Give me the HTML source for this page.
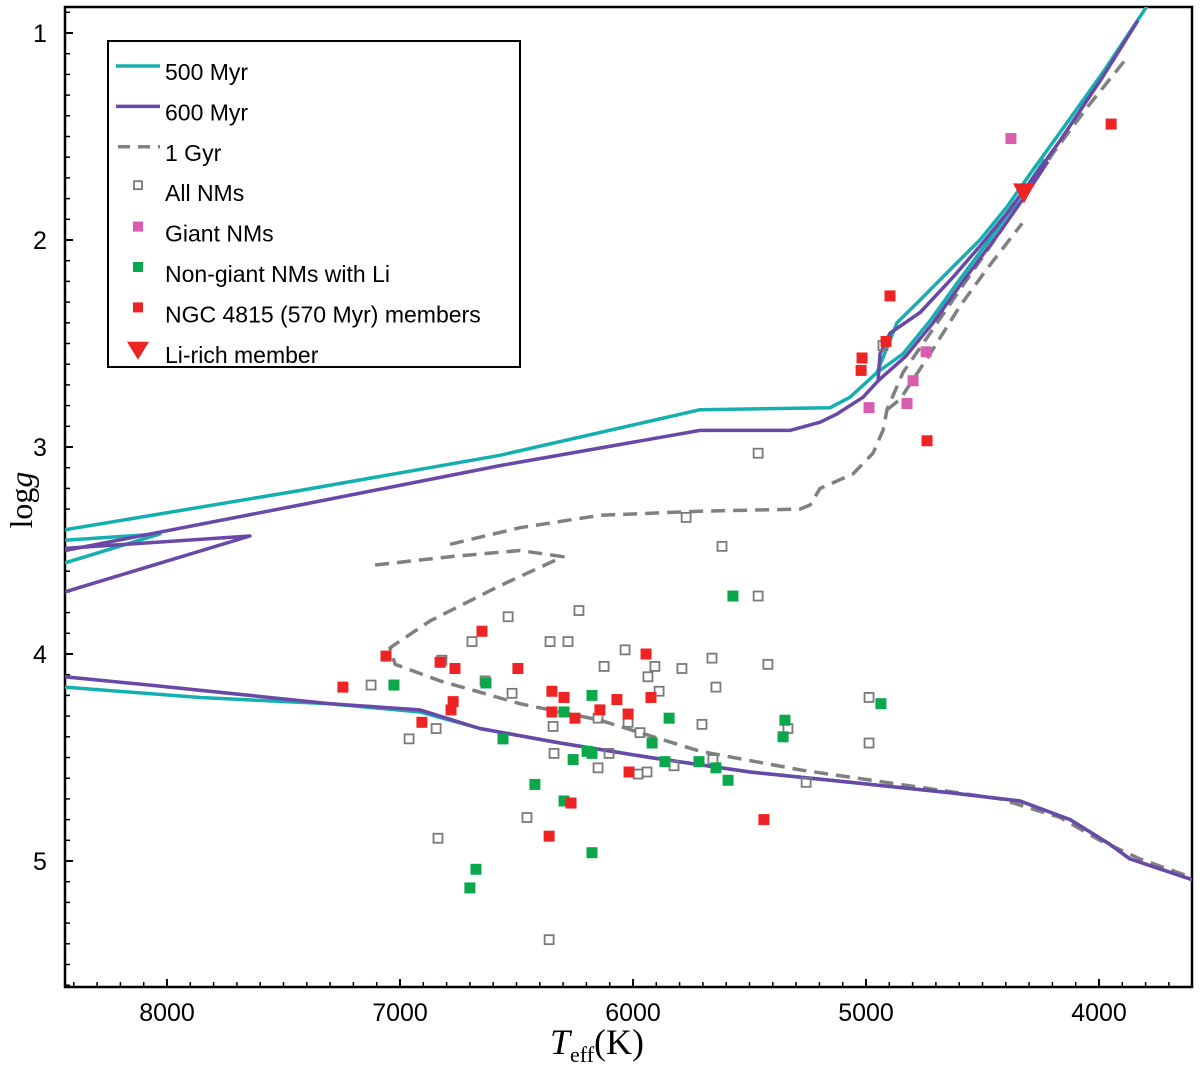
<!DOCTYPE html>
<html><head><meta charset="utf-8"><style>
html,body{margin:0;padding:0;background:#fff;}
svg{display:block;}
</style></head><body>
<svg id="chart" width="1200" height="1066" xmlns="http://www.w3.org/2000/svg"></svg>
<script>
// ---- data ----
const redT=[3948,4897,4914,5017,5021,4738,7245,7060,6648,6828,6764,6494,6772,6781,6906,6348,6296,6348,6249,6142,6069,6021,5944,5923,6017,6266,6360,5438];
const redG=[1.44,2.27,2.49,2.57,2.63,2.97,4.16,4.01,3.89,4.04,4.07,4.07,4.23,4.27,4.33,4.18,4.21,4.28,4.31,4.27,4.22,4.29,4.00,4.21,4.57,4.72,4.88,4.80];
const greenT=[5571,7026,6631,6558,6176,6296,5845,5918,6197,6176,6257,5863,5717,5644,5592,6421,6296,6176,6674,6700,5348,5356,4936];
const greenG=[3.72,4.15,4.14,4.41,4.20,4.28,4.31,4.43,4.47,4.48,4.51,4.52,4.52,4.55,4.61,4.63,4.71,4.96,5.04,5.13,4.32,4.40,4.24];
const greyT=[5463,5772,5618,5463,6232,6536,6691,6356,6279,6034,6124,5906,5936,5790,5661,5421,5644,5888,6519,6820,7124,6635,6845,6961,6343,6150,6021,5970,5704,5335,6339,6103,6150,5978,5940,5824,5657,5257,6455,6837,6360,4987,4987,4927];
const greyG=[3.03,3.34,3.48,3.72,3.79,3.82,3.94,3.94,3.94,3.98,4.06,4.06,4.11,4.07,4.02,4.05,4.16,4.18,4.19,4.03,4.15,4.13,4.36,4.41,4.35,4.31,4.33,4.38,4.34,4.36,4.48,4.48,4.55,4.58,4.57,4.54,4.51,4.62,4.79,4.89,5.38,4.21,4.43,2.51];
const pinkT=[4378,4742,4798,4824,4987];
const pinkG=[1.51,2.54,2.68,2.79,2.81];
const liT=[4322];
const liG=[1.77];
// isochrones
const t500msT=[8438,7858,7300,6914,6657,6313,5927,5498,5069,4639,4339,4124,3953,3867,3601];
const t500msG=[4.16,4.21,4.24,4.28,4.36,4.43,4.50,4.57,4.62,4.67,4.71,4.80,4.92,4.99,5.09];
const t500upT=[8438,7429,6571,5712,5154,5069,4953,4867,4768,4627,4511,4395,4283,4167,3983,3794];
const t500upG=[3.40,3.21,3.04,2.82,2.81,2.76,2.64,2.40,2.29,2.13,2.00,1.84,1.66,1.48,1.19,0.87];
const t500rgbT=[4953,4841,4725,4597,4438,4326,4232];
const t500rgbG=[2.64,2.55,2.39,2.19,1.95,1.77,1.61];
const t500hookT=[8438,8030,8438];
const t500hookG=[3.56,3.42,3.45];
const p600msT=[8438,8073,7300,6914,6657,6313,5927,5498,5069,4639,4339,4124,3953,3867,3601];
const p600msG=[4.11,4.15,4.24,4.27,4.36,4.43,4.50,4.57,4.62,4.67,4.71,4.80,4.92,4.99,5.09];
const p600upT=[8438,7429,6571,5712,5326,5197,5124,5013,4948,4940,4897,4768,4627,4511,4395,4283,4167,3983,3833];
const p600upG=[3.50,3.28,3.09,2.92,2.92,2.88,2.84,2.76,2.68,2.55,2.45,2.35,2.18,2.03,1.87,1.70,1.52,1.21,0.94];
const p600rgbT=[4948,4828,4712,4584,4425,4313,4219];
const p600rgbG=[2.68,2.56,2.40,2.20,1.96,1.78,1.62];
const p600hookT=[8438,7644,8438];
const p600hookG=[3.70,3.43,3.49];
const g1aT=[7107,6785,6485,6300,6571,6871,7043,7021,6828,6485,6142,5712,5283,4854,4425,4167,3996,3824,3601];
const g1aG=[3.57,3.53,3.50,3.53,3.67,3.84,3.97,4.05,4.13,4.24,4.32,4.47,4.56,4.63,4.70,4.79,4.90,4.99,5.08];
const g1bT=[6785,6485,6142,5712,5283,5240,5197,5056,4970,4927,4910,4841,4725,4597,4455,4309,4197,4051,3880];
const g1bG=[3.47,3.39,3.33,3.31,3.30,3.28,3.20,3.13,3.03,2.92,2.82,2.64,2.45,2.24,2.01,1.77,1.58,1.36,1.12];
const g1cT=[4910,4854,4725,4597,4481,4330];
const g1cG=[2.82,2.77,2.55,2.32,2.14,1.92];
const xTicks=[8000,7000,6000,5000,4000];
const yTicks=[1,2,3,4,5];

// ---- axes ----
const L=65,R=1192,T=7,B=987;
const X=t=>167+(8000-t)*0.233;
const Y=g=>33+(g-1)*207;
const NS='http://www.w3.org/2000/svg';
const svg=document.getElementById('chart');
function mk(tag,attrs,parent){const e=document.createElementNS(NS,tag);for(const k in attrs)e.setAttribute(k,attrs[k]);(parent||svg).appendChild(e);return e;}

// frame
const frame=mk('rect',{x:L,y:T,width:R-L,height:B-T,fill:'none',stroke:'#000','stroke-width':2.5});


for(let t=8400;t>=3700;t-=100){const x=X(t);const maj=t%1000===0;
 const tk=mk('line',{x1:x,x2:x,y1:B,y2:B-(maj?8:5),stroke:'#000','stroke-width':maj?2:1.5});
 
 }
for(let g=0.9;g<=5.6;g+=0.1){const gg=Math.round(g*10)/10;const y=Y(gg);const maj=Math.abs(gg-Math.round(gg))<1e-6;
 const tk=mk('line',{x1:L,x2:L+(maj?8:5),y1:y,y2:y,stroke:'#000','stroke-width':maj?2:1.5});
 
 }
xTicks.forEach(t=>{const e=mk('text',{x:X(t),y:1021,'text-anchor':'middle','font-family':'Liberation Sans, sans-serif','font-size':25});e.textContent=t;
 
 });
yTicks.forEach(g=>{const e=mk('text',{x:40,y:Y(g)+9,'text-anchor':'middle','font-family':'Liberation Sans, sans-serif','font-size':25});e.textContent=g;
 
 });

const xt=mk('text',{x:597,y:1054,'text-anchor':'middle','font-family':'Liberation Serif, serif','font-size':36});
xt.innerHTML='<tspan font-style="italic">T</tspan><tspan font-size="22" dy="8">eff</tspan><tspan dy="-8">(K)</tspan>';


const yt=mk('text',{x:32,y:500,'text-anchor':'middle','font-family':'Liberation Serif, serif','font-size':32,transform:'rotate(-90 32 500)'});
yt.innerHTML='log<tspan font-style="italic">g</tspan>';



const defs=mk('defs',{});const cp=mk('clipPath',{id:'pc'},defs);mk('rect',{x:L,y:T,width:R-L,height:B-T},cp);
const plot=mk('g',{'clip-path':'url(#pc)'});



function line(ts,gs,color,dash,name){
 const d=ts.map((t,i)=>(i?'L':'M')+X(t).toFixed(1)+' '+Y(gs[i]).toFixed(1)).join(' ');
 const p=mk('path',{d,fill:'none',stroke:color,'stroke-width':3.5,'stroke-linejoin':'round','stroke-dasharray':dash||'none'},plot);
 
 
}
line(g1aT,g1aG,'#808080','14 8','isochrone-1gyr-ms');
line(g1bT,g1bG,'#808080','14 8','isochrone-1gyr-giant');
line(g1cT,g1cG,'#808080','14 8','isochrone-1gyr-branch');
line(t500msT,t500msG,'#14b0b0',null,'isochrone-500myr-ms');
line(t500upT,t500upG,'#14b0b0',null,'isochrone-500myr-giant');
line(t500rgbT,t500rgbG,'#14b0b0',null,'isochrone-500myr-rgb');
line(t500hookT,t500hookG,'#14b0b0',null,'isochrone-500myr-hook');
line(p600msT,p600msG,'#6a48a8',null,'isochrone-600myr-ms');
line(p600upT,p600upG,'#6a48a8',null,'isochrone-600myr-giant');
line(p600rgbT,p600rgbG,'#6a48a8',null,'isochrone-600myr-rgb');
line(p600hookT,p600hookG,'#6a48a8',null,'isochrone-600myr-hook');

function squares(ts,gs,fill,stroke,name){
 ts.forEach((t,i)=>{const s=fill==='none'?9:11;
  const r=mk('rect',{x:X(t)-s/2,y:Y(gs[i])-s/2,width:s,height:s,fill:fill,stroke:stroke,'stroke-width':fill==='none'?1.8:0},plot);
  
  });
}
squares(greyT,greyG,'none','#7a7a7a','all-nm-point');
squares(greenT,greenG,'#0aa84a','none','nongiant-li-point');
squares(redT,redG,'#ee2424','none','ngc4815-member-point');
squares(pinkT,pinkG,'#d85cb0','none','giant-nm-point');
liT.forEach((t,i)=>{const x=X(t),y=Y(liG[i]);
 const p=mk('path',{d:`M${x-11} ${y-9} L${x+11} ${y-9} L${x} ${y+11} Z`,fill:'#ee2424'},plot);
 
 });

const lg=mk('g',{});


mk('rect',{x:108,y:41,width:412,height:326,fill:'#fff',stroke:'#000','stroke-width':2},lg);
const entries=[['500 Myr','line','#14b0b0'],['600 Myr','line','#6a48a8'],['1 Gyr','dash','#808080'],['All NMs','open','#7a7a7a'],['Giant NMs','sq','#d85cb0'],['Non-giant NMs with Li','sq','#0aa84a'],['NGC 4815 (570 Myr) members','sq','#ee2424'],['Li-rich member','tri','#ee2424']];
entries.forEach((e,i)=>{const y=72+i*40.4;
 const g=mk('g',{},lg);
 
 
 if(e[1]==='line')mk('line',{x1:116,x2:160,y1:y-6,y2:y-6,stroke:e[2],'stroke-width':3.5},g);
 else if(e[1]==='dash')mk('line',{x1:118,x2:160,y1:y-6,y2:y-6,stroke:e[2],'stroke-width':3.5,'stroke-dasharray':'12 8'},g);
 else if(e[1]==='open')mk('rect',{x:134,y:y-12,width:8,height:8,fill:'none',stroke:e[2],'stroke-width':1.8},g);
 else if(e[1]==='sq')mk('rect',{x:133,y:y-12,width:10,height:10,fill:e[2]},g);
 else mk('path',{d:`M${127} ${y-13} L${149} ${y-13} L${138} ${y+5} Z`,fill:e[2]},g);
 const t=mk('text',{x:165,y:y+8,'font-family':'Liberation Sans, sans-serif','font-size':23},g);t.textContent=e[0];});
</script>
</body></html>
